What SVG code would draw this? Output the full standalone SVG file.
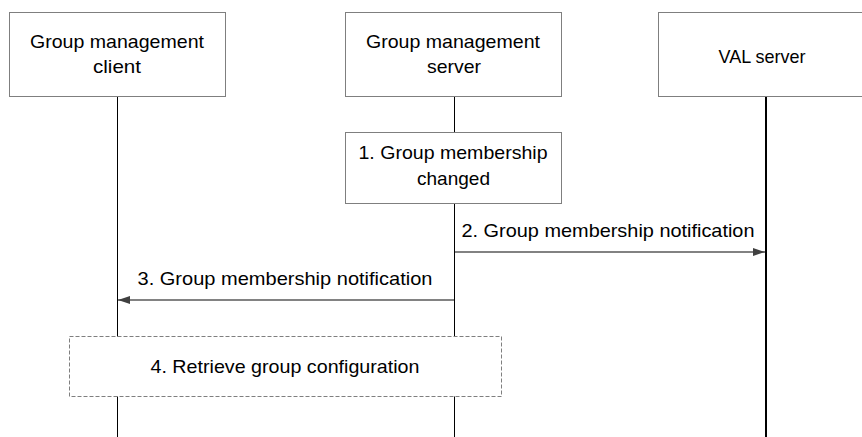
<svg xmlns="http://www.w3.org/2000/svg" width="862" height="437" viewBox="0 0 862 437">
<style>
text{font-family:"Liberation Sans",Arial,sans-serif;font-size:19px;fill:#000;text-anchor:middle}
.box{fill:#fff;stroke:#7f7f7f;stroke-width:1}
.life{stroke:#000;stroke-width:1;fill:none}
.msg{stroke:#595959;stroke-width:1.5;fill:none}
.dash{fill:#fff;stroke:#7f7f7f;stroke-width:1;stroke-dasharray:4 2}
</style>
<defs>
<marker id="ah" viewBox="0 0 12 8" refX="12" refY="4" markerWidth="12" markerHeight="8" markerUnits="userSpaceOnUse" orient="auto">
<path d="M0,0 L12,4 L0,8 Z" fill="#404040"/>
</marker>
</defs>
<g id="lifelines">
<line class="life" x1="117.5" y1="96" x2="117.5" y2="437"/>
<line class="life" x1="454.5" y1="96" x2="454.5" y2="437"/>
<line class="life" x1="766" y1="96" x2="766" y2="437" style="stroke-width:2"/>
</g>
<g id="client">
<rect class="box" x="9.5" y="12.5" width="216" height="84"/>
<text x="117" y="48" textLength="174" lengthAdjust="spacingAndGlyphs">Group management</text>
<text x="117" y="73" textLength="48" lengthAdjust="spacingAndGlyphs">client</text>
</g>
<g id="gms">
<rect class="box" x="345.5" y="12.5" width="216" height="84"/>
<text x="453" y="48" textLength="174" lengthAdjust="spacingAndGlyphs">Group management</text>
<text x="454" y="73" textLength="54" lengthAdjust="spacingAndGlyphs">server</text>
</g>
<g id="val">
<rect class="box" x="658.5" y="12.5" width="210" height="84"/>
<text x="762" y="63" textLength="87" lengthAdjust="spacingAndGlyphs">VAL server</text>
</g>
<g id="step1">
<rect class="box" x="345.5" y="132.5" width="216" height="71"/>
<text x="453" y="159" textLength="189" lengthAdjust="spacingAndGlyphs">1. Group membership</text>
<text x="453.5" y="185" textLength="73" lengthAdjust="spacingAndGlyphs">changed</text>
</g>
<g id="step4">
<rect class="dash" x="69.5" y="336.5" width="432" height="60"/>
<text x="285" y="373" textLength="269" lengthAdjust="spacingAndGlyphs">4. Retrieve group configuration</text>
</g>
<g id="connectors">
<line class="msg" x1="455" y1="252" x2="765" y2="252" marker-end="url(#ah)"/>
<text x="608" y="237" textLength="293" lengthAdjust="spacingAndGlyphs">2. Group membership notification</text>
<line class="msg" x1="454" y1="300" x2="118" y2="300" marker-end="url(#ah)"/>
<text x="285" y="285" textLength="295" lengthAdjust="spacingAndGlyphs">3. Group membership notification</text>
</g>
</svg>
